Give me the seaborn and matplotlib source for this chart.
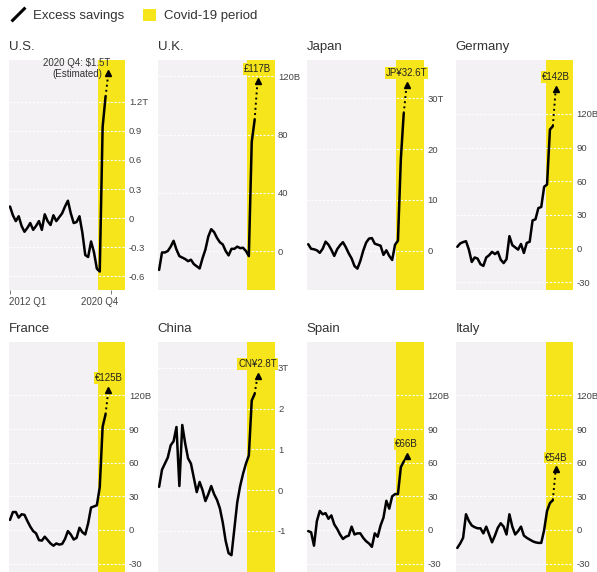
import numpy as np
import pandas as pd
import matplotlib
matplotlib.use('Agg')
import matplotlib.pyplot as plt
import matplotlib.transforms as mtransforms
import seaborn as sns
from matplotlib.lines import Line2D
from matplotlib.patches import Patch

# Excess savings, one value per quarter from 2012 Q1 to 2019 Q4
us_pre = [0.12, 0.03, -0.03, 0.02, -0.08, -0.14, -0.10, -0.05, -0.12, -0.08, -0.03, -0.12,
          0.04, -0.03, -0.07, 0.03, -0.03, 0.01, 0.05, 0.12, 0.18, 0.05, -0.05, -0.04,
          0.02, -0.15, -0.38, -0.40, -0.24, -0.35, -0.52, -0.55]
uk_pre = [-13, -1, -1, 0, 3, 7, 1, -3.5, -4.5, -5.5, -7, -6, -9, -10.5, -12, -5,
          1, 10, 15, 13, 9, 6, 4.5, 0, -3, 1.5, 1.5, 3, 2, 2.2, 0, -3.5]
japan_pre = [1.3, 0.4, 0.3, 0.1, -0.4, 0.4, 1.8, 1.2, 0.2, -1.0, 0.3, 1.1, 1.7, 0.7, -0.5, -1.5,
             -3.0, -3.5, -2.0, 0.0, 1.6, 2.4, 2.5, 1.4, 1.2, 1.0, -0.8, 0.1, -1.0, -1.8, 1.2, 2.0]
germany_pre = [1.5, 4.5, 5.7, 6.5, -1, -12, -8, -9, -14, -15.5, -8, -6, -3, -5, -3, -10,
               -13, -9.5, 11, 3, 1, -1, 4, -4, 5, 6, 25, 26, 36, 37, 55, 57]
france_pre = [9, 16, 16, 11, 14, 13.5, 8, 3, -1, -3, -9, -9.5, -6, -9, -12, -14,
              -12, -13, -12.5, -8, -1, -4, -8.5, -7, 2, -2, -4, 6, 20, 21, 22, 38]
china_pre = [0.08, 0.5, 0.65, 0.8, 1.1, 1.2, 1.55, 0.1, 1.6, 1.15, 0.78, 0.65, 0.3, -0.05, 0.2, 0.0,
             -0.27, -0.1, 0.1, -0.1, -0.24, -0.45, -0.8, -1.25, -1.55, -1.6, -0.95, -0.3, 0.1, 0.4, 0.65, 0.85]
spain_pre = [-1, -2, -14, 8, 17, 14, 15, 10, 13, 5, 1, -4, -8, -6, -5, 3,
             -4, -3, -3, -7, -10, -12, -15, -3, -6, 4, 11, 26, 19, 30, 32, 32]
italy_pre = [-16, -12, -7, 14, 8, 4, 2.5, 1.5, 1.5, -3, 3, -4, -11, -5, 2, 6,
             3, -4, 14, 3, -4, -1, 3, -5, -7, -8.5, -10, -11, -11.5, -11.5, 0, 17]

# 2020 quarters (solid line) and the estimate for 2020 Q4 (dotted arrow)
us_covid, us_est = [0.94, 1.25], 1.5
uk_covid, uk_est = [75, 90], 117
japan_covid, japan_est = [18, 27], 32.6
germany_covid, germany_est = [106, 109], 142
france_covid, france_est = [92, 103], 125
china_covid, china_est = [2.2, 2.36], 2.8
spain_covid, spain_est = [56, 61], 66
italy_covid, italy_est = [24, 26.5], 54

names = ['U.S.', 'U.K.', 'Japan', 'Germany', 'France', 'China', 'Spain', 'Italy']
est_labels = ['2020 Q4: $1.5T\n(Estimated)', '£117B', 'JP¥32.6T', '€142B',
              '€125B', 'CN¥2.8T', '€66B', '€54B']

euro_ticks = [-30, 0, 30, 60, 90, 120]
euro_labels = ['-30', '0', '30', '60', '90', '120B']
yticks = [[-0.6, -0.3, 0, 0.3, 0.6, 0.9, 1.2], [0, 40, 80, 120], [0, 10, 20, 30], euro_ticks,
          euro_ticks, [-1, 0, 1, 2, 3], euro_ticks, euro_ticks]
ylabels = [['-0.6', '-0.3', '0', '0.3', '0.6', '0.9', '1.2T'], ['0', '40', '80', '120B'],
           ['0', '10', '20', '30T'], euro_labels, euro_labels, ['-1', '0', '1', '2', '3T'],
           euro_labels, euro_labels]
ylims = [(-0.74, 1.63), (-26.8, 131.3), (-7.7, 37.5), (-37, 168),
         (-37, 168), (-2.0, 3.65), (-37, 168), (-37, 168)]

pre = [us_pre, uk_pre, japan_pre, germany_pre, france_pre, china_pre, spain_pre, italy_pre]
covid = [us_covid, uk_covid, japan_covid, germany_covid, france_covid, china_covid, spain_covid, italy_covid]
est = [us_est, uk_est, japan_est, germany_est, france_est, china_est, spain_est, italy_est]

YELLOW = '#f6e51b'
BG = '#f3f1f3'
TXT = '#333333'
COVID_START = 30.5
X_MIN, X_MAX = -0.52, 39.9

sns.set_style('white')
plt.rcParams['font.family'] = ['Liberation Sans', 'DejaVu Sans']
NARROW = ['Liberation Sans Narrow', 'Liberation Sans', 'DejaVu Sans']

W, H = 597, 572
fig = plt.figure(figsize=(W / 100, H / 100), dpi=100)

lefts = [8.5 + 149.1 * i for i in range(4)]
tops = [60, 341.5]
aw, ah = 117, 230

for i, name in enumerate(names):
    r, c = divmod(i, 4)
    ax = fig.add_axes([lefts[c] / W, 1 - (tops[r] + ah) / H, aw / W, ah / H])
    ax.set_facecolor(BG)
    for s in ax.spines.values():
        s.set_visible(False)

    vals = pre[i] + covid[i]
    df = pd.DataFrame({'q': np.arange(len(vals)), 'v': vals})
    ax.axvspan(COVID_START, X_MAX, color=YELLOW, lw=0, zorder=0.2)
    sns.lineplot(data=df, x='q', y='v', ax=ax, color='black', lw=1.8, zorder=3)

    q_last = len(vals) - 1
    ax.plot([q_last, q_last + 1], [vals[-1], est[i]], ls=':', color='black', lw=1.4, zorder=3)
    ax.plot([q_last + 1], [est[i]], marker='^', ms=4.5, color='black', zorder=4)

    if i == 0:
        ax.annotate(est_labels[i], (q_last + 1, est[i]), xytext=(1.5, 3), textcoords='offset points',
                    ha='right', va='center', ma='center', fontsize=7, color=TXT,
                    linespacing=1.1, zorder=5)
    else:
        ax.annotate(est_labels[i], (q_last + 1, est[i]), xytext=(0, 8.5), textcoords='offset points',
                    ha='center', va='center', fontsize=7, color='#222222', zorder=5,
                    bbox=dict(fc=YELLOW, ec='none', pad=0.6))

    ax.set_xlim(X_MIN, X_MAX)
    ax.set_ylim(*ylims[i])
    ax.yaxis.tick_right()
    ax.set_yticks(yticks[i], ylabels[i], fontfamily=NARROW)
    ax.tick_params(axis='y', length=0, pad=2.5, labelsize=6.8, labelcolor='#444444')
    ax.grid(axis='y', color='white', ls=(0, (2, 1.5)), lw=0.8)
    ax.grid(axis='x', visible=False)
    ax.set_axisbelow(True)
    ax.set_xlabel('')
    ax.set_ylabel('')

    if i == 0:
        ax.set_xticks([0, 35], ['2012 Q1', '2020 Q4'])
        ax.tick_params(axis='x', length=3, width=0.6, color='#666666', pad=2,
                       labelsize=7, labelcolor='#444444', bottom=True)
        xl = ax.get_xticklabels()
        xl[0].set_ha('left')
        xl[0].set_transform(xl[0].get_transform() + mtransforms.ScaledTranslation(-0.01, 0, fig.dpi_scale_trans))
        xl[1].set_ha('right')
        xl[1].set_transform(xl[1].get_transform() + mtransforms.ScaledTranslation(0.07, 0, fig.dpi_scale_trans))
    else:
        ax.set_xticks([])

    ax.set_title(name, loc='left', fontsize=9.5, color=TXT, pad=7)

handles = [Line2D([], [], color='black', marker=[(-1, -1), (1, 1)], linestyle='None',
                  markersize=10, markeredgewidth=2.2),
           Patch(facecolor=YELLOW, edgecolor='none')]
fig.legend(handles, ['Excess savings', 'Covid-19 period'], loc='upper left',
           bbox_to_anchor=(0.0, 1.005), ncol=2, frameon=False, fontsize=9.5,
           handlelength=1.0, handleheight=1.0, handletextpad=0.6, columnspacing=1.4,
           labelcolor=TXT)

fig.savefig('out.png', dpi=100, facecolor='white')
